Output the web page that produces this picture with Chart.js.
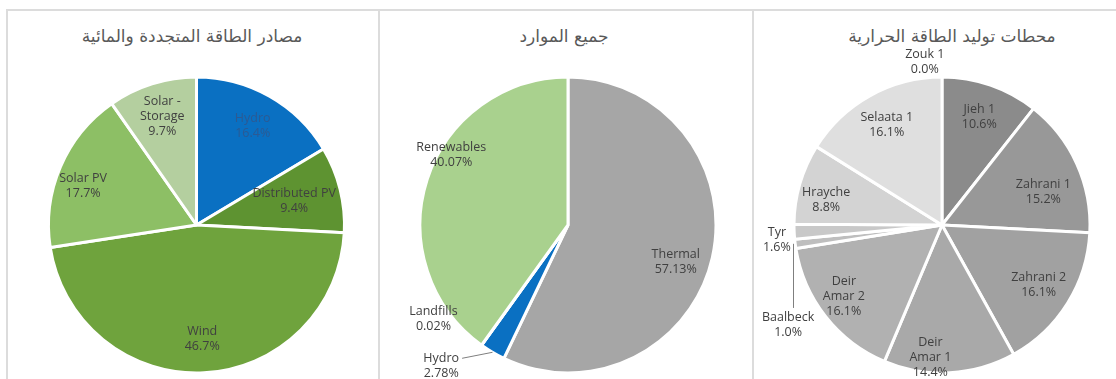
<!DOCTYPE html>
<html>
<head>
<meta charset="utf-8">
<script src="https://cdn.jsdelivr.net/npm/chart.js@4.4.1/dist/chart.umd.min.js"></script>
<style>
  html, body { margin: 0; padding: 0; background: #fff; width: 1116px; height: 379px; overflow: hidden; }
  .frame { position: absolute; background: #dcdcdc; }
  .panel { position: absolute; }
  .title {
    position: absolute; top: 24px; width: 320px; margin-left: -160px;
    text-align: center; direction: rtl;
    font-family: "DejaVu Sans", sans-serif; font-size: 17px; line-height: 24px; color: #595959;
  }
</style>
</head>
<body>
<div class="frame" style="left:7px; top:9px; width:1109px; height:2px;"></div>
<div class="frame" style="left:6px; top:9px; width:2px; height:370px;"></div>
<div class="frame" style="left:378px; top:9px; width:2px; height:370px;"></div>
<div class="frame" style="left:752px; top:9px; width:2px; height:370px;"></div>

<div class="title" style="left:192px;">مصادر الطاقة المتجددة والمائية</div>
<div class="title" style="left:564px;">جميع الموارد</div>
<div class="title" style="left:952px;">محطات توليد الطاقة الحرارية</div>

<div class="panel" style="left:9px; top:12px; width:369px; height:367px;"><canvas id="renewables"></canvas></div>
<div class="panel" style="left:381px; top:12px; width:371px; height:367px;"><canvas id="allSources"></canvas></div>
<div class="panel" style="left:755px; top:12px; width:361px; height:367px;"><canvas id="thermal"></canvas></div>

<script>
// Renewable and hydro sources (share of capacity, %)
const renewCategories = ['Hydro', 'Distributed PV', 'Wind', 'Solar PV', ['Solar -', 'Storage']];
const renewValues = [16.4, 9.4, 46.7, 17.7, 9.7];
const renewColors = ['#0a70c2', '#5e9331', '#6fa33d', '#8dbf65', '#b4cf9f'];

// All sources (%)
const allCategories = ['Thermal', 'Hydro', 'Landfills', 'Renewables'];
const allValues = [57.13, 2.78, 0.02, 40.07];
const allColors = ['#a6a6a6', '#0a70c2', '#70ad47', '#a9d18e'];

// Thermal power plants (%)
const thermalCategories = ['Jieh 1', 'Zahrani 1', 'Zahrani 2', ['Deir', 'Amar 1'], ['Deir', 'Amar 2'],
  'Baalbeck', 'Tyr', 'Hrayche', 'Selaata 1', 'Zouk 1'];
const thermalValues = [10.6, 15.2, 16.1, 14.4, 16.1, 1.0, 1.6, 8.8, 16.1, 0.0];
const thermalColors = ['#8b8b8b', '#989898', '#a1a1a1', '#a9a9a9', '#b1b1b1',
  '#bebebe', '#c8c8c8', '#d3d3d3', '#dfdfdf', '#ededed'];

// Draws "name / value%" inside (or beside) each slice, with optional leader lines.
const sliceLabels = {
  id: 'sliceLabels',
  afterDatasetsDraw(chart, args, opts) {
    const ctx = chart.ctx;
    const meta = chart.getDatasetMeta(0);
    const values = chart.data.datasets[0].data;
    const place = opts.place || {};
    const leaders = opts.leaders || {};
    const colors = opts.colors || {};
    ctx.save();
    ctx.font = opts.size + 'px ' + opts.family;
    ctx.textAlign = 'center';
    ctx.textBaseline = 'middle';
    meta.data.forEach((arc, i) => {
      const { x, y, startAngle, endAngle, outerRadius } =
        arc.getProps(['x', 'y', 'startAngle', 'endAngle', 'outerRadius'], true);
      const mid = (startAngle + endAngle) / 2;
      const p = place[i] || {};
      const ang = p.a !== undefined ? (p.a - 90) * Math.PI / 180 : mid;
      const f = p.f !== undefined ? p.f : opts.dist;
      const cx = x + Math.cos(ang) * outerRadius * f;
      const cy = y + Math.sin(ang) * outerRadius * f;
      const name = chart.data.labels[i];
      const lines = (Array.isArray(name) ? name.slice() : [name]);
      lines.push(values[i].toFixed(opts.decimals) + '%');
      const lh = opts.lineHeight;
      const top = cy - (lines.length - 1) * lh / 2;
      ctx.fillStyle = colors[i] || opts.color;
      lines.forEach((t, k) => ctx.fillText(t, cx, top + k * lh));
      const lead = leaders[i];
      if (lead) {
        const ex = x + Math.cos(mid) * outerRadius;
        const ey = y + Math.sin(mid) * outerRadius;
        ctx.strokeStyle = opts.leaderColor;
        ctx.lineWidth = 1;
        ctx.beginPath();
        if (lead === 'side') {
          const w = ctx.measureText(lines[0]).width;
          ctx.moveTo(cx + w / 2 + 3, top);
          ctx.lineTo(ex, ey);
        } else {
          ctx.moveTo(Math.round(ex) - 1.5, ey);
          ctx.lineTo(Math.round(ex) - 1.5, top - lh / 2 - 2);
        }
        ctx.stroke();
      }
    });
    ctx.restore();
  }
};

function pieChart(id, categories, values, colors, padding, labelOpts) {
  return new Chart(document.getElementById(id), {
    type: 'pie',
    data: {
      labels: categories,
      datasets: [{
        data: values,
        backgroundColor: colors,
        borderColor: '#ffffff',
        borderWidth: 3,
        hoverOffset: 0
      }]
    },
    options: {
      responsive: true,
      maintainAspectRatio: false,
      animation: false,
      radius: 148,
      layout: { padding: padding },
      plugins: {
        legend: { display: false },
        tooltip: { enabled: false },
        title: { display: false },
        sliceLabels: Object.assign({
          family: '"Open Sans", sans-serif',
          size: 12.5,
          lineHeight: 15,
          color: '#404040',
          leaderColor: '#7f7f7f',
          dist: 0.77,
          decimals: 1
        }, labelOpts)
      }
    },
    plugins: [sliceLabels]
  });
}

pieChart('renewables', renewCategories, renewValues, renewColors,
  { left: 6, right: 0, top: 59, bottom: 0 },
  {
    colors: { 0: '#2c5a93' },
    place: { 1: { f: 0.68 }, 3: { f: 0.81, a: 289 } }
  });

pieChart('allSources', allCategories, allValues, allColors,
  { left: 3, right: 0, top: 59, bottom: 0 },
  {
    decimals: 2,
    place: {
      0: { f: 0.77, a: 109 },
      1: { f: 1.28, a: 222 },
      2: { f: 1.11, a: 235 },
      3: { f: 0.92, a: 301 }
    },
    leaders: { 1: 'side' }
  });

pieChart('thermal', thermalCategories, thermalValues, thermalColors,
  { left: 13, right: 0, top: 59, bottom: 0 },
  {
    place: {
      1: { f: 0.72, a: 72 },
      3: { f: 0.90, a: 185 },
      4: { f: 0.82, a: 234 },
      5: { f: 1.24, a: 237 },
      6: { f: 1.12, a: 265 },
      7: { f: 0.80, a: 282 },
      9: { f: 1.11, a: 354 }
    },
    leaders: { 5: 'down' }
  });
</script>
</body>
</html>
